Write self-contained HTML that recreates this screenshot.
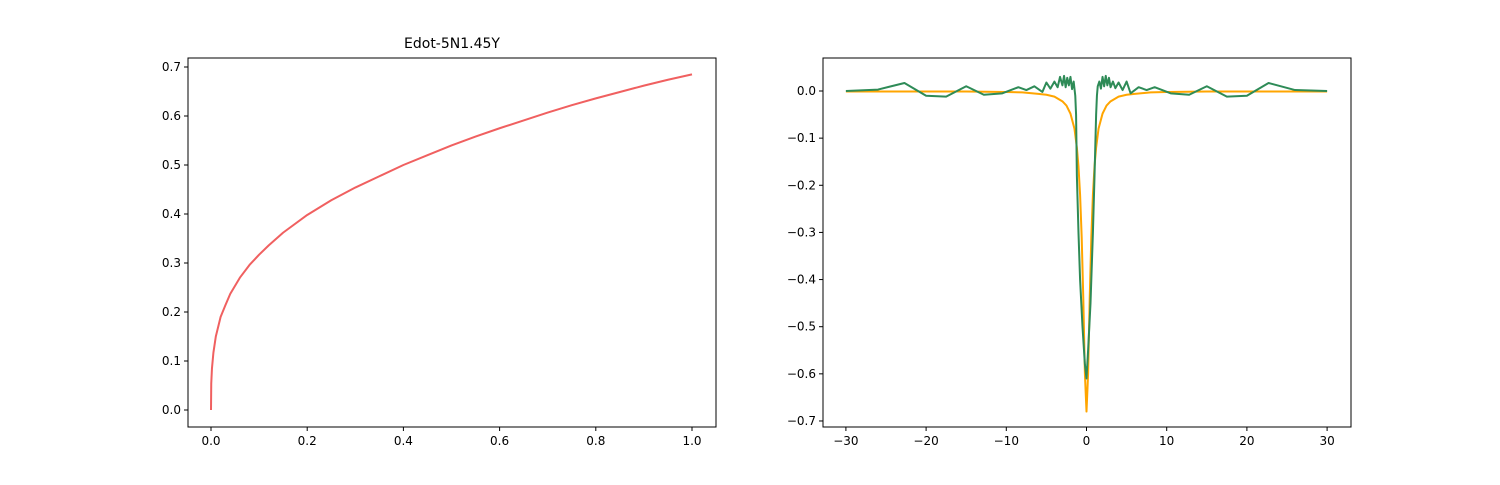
<!DOCTYPE html>
<html><head><meta charset="utf-8"><style>
body{margin:0;background:#fff;font-family:"Liberation Sans","DejaVu Sans",sans-serif}
svg text{font-family:"DejaVu Sans","Liberation Sans",sans-serif;font-size:12px;fill:#000}
svg text.title{font-size:14px}
</style></head><body>
<svg id="c" width="1500" height="480">
<rect x="0" y="0" width="1500" height="480" fill="#fff"/>
</svg>
<script>
const leftX=[0,0.0005,0.002,0.005,0.01,0.02,0.03,0.04,0.06,0.08,0.1,0.12,0.15,0.2,0.25,0.3,0.35,0.4,0.45,0.5,0.55,0.6,0.65,0.7,0.75,0.8,0.85,0.9,0.95,1.0];
const leftY=[0,0.054,0.085,0.117,0.150,0.190,0.214,0.237,0.270,0.296,0.317,0.336,0.362,0.398,0.428,0.454,0.477,0.500,0.520,0.540,0.558,0.575,0.591,0.607,0.622,0.636,0.649,0.662,0.674,0.685];
const orangeX=[-30,-20,-15,-10,-8,-6,-5,-4,-3,-2.5,-2,-1.5,-1.2,-1,-0.8,-0.6,-0.4,-0.2,0,0.2,0.4,0.6,0.8,1,1.2,1.5,2,2.5,3,4,5,6,8,10,15,20,30];
const orangeY=[-0.001,-0.001,-0.001,-0.002,-0.003,-0.006,-0.008,-0.012,-0.022,-0.031,-0.048,-0.080,-0.120,-0.160,-0.220,-0.310,-0.440,-0.600,-0.680,-0.600,-0.440,-0.310,-0.220,-0.160,-0.120,-0.080,-0.048,-0.031,-0.022,-0.012,-0.008,-0.006,-0.003,-0.002,-0.001,-0.001,-0.001];
const greenX=[-30,-26,-22.7,-20,-17.5,-15,-12.8,-10.5,-8.5,-7.5,-6.5,-5.5,-5,-4.5,-4,-3.6,-3.3,-3,-2.8,-2.6,-2.4,-2.2,-2,-1.8,-1.6,-1.4,-1.3,-1.2,-1,-0.8,-0.5,-0.2,0,0.2,0.5,0.8,1,1.2,1.3,1.4,1.6,1.8,2,2.2,2.4,2.6,2.8,3,3.3,3.6,4,4.5,5,5.5,6.5,7.5,8.5,10.5,12.8,15,17.5,20,22.7,26,30];
const greenY=[0,0.003,0.017,-0.01,-0.012,0.01,-0.008,-0.005,0.008,0.002,0.01,-0.002,0.018,0.005,0.02,0.008,0.03,0.012,0.032,0.008,0.028,0.012,0.03,0.004,0.02,-0.01,-0.05,-0.18,-0.3,-0.4,-0.5,-0.58,-0.61,-0.55,-0.45,-0.3,-0.18,-0.05,-0.01,0.01,0.02,0.005,0.03,0.01,0.032,0.012,0.028,0.008,0.02,0.006,0.018,0.002,0.02,-0.005,0.008,0.002,0.008,-0.005,-0.008,0.01,-0.012,-0.01,0.017,0.002,0];
const leftXTicks=[0,0.2,0.4,0.6,0.8,1.0],leftYTicks=[0,0.1,0.2,0.3,0.4,0.5,0.6,0.7];
const rightXTicks=[-30,-20,-10,0,10,20,30],rightYTicks=[0,-0.1,-0.2,-0.3,-0.4,-0.5,-0.6,-0.7];
const svg=document.getElementById('c'),NS='http://www.w3.org/2000/svg';
function mk(t,a,p){const e=document.createElementNS(NS,t);for(const k in a)e.setAttribute(k,a[k]);(p||svg).appendChild(e);return e;}
function panel(name,x0,x1,y0,y1,sx,sy,xt,yt,fx,fy){
 const g=mk('g',{});
 
 
 xt.forEach(v=>{const X=sx(v);mk('line',{x1:X,x2:X,y1:y1,y2:y1+4,stroke:'#000'},g);const t=mk('text',{x:X,y:y1+18,'text-anchor':'middle'},g);t.textContent=fx(v);
  
  });
 yt.forEach(v=>{const Y=sy(v);mk('line',{x1:x0-4,x2:x0,y1:Y,y2:Y,stroke:'#000'},g);const t=mk('text',{x:x0-7,y:Y+4,'text-anchor':'end'},g);t.textContent=fy(v);
  
  });
 return g;}
function line(g,xs,ys,sx,sy,col,w,name){const p=mk('polyline',{points:xs.map((x,i)=>sx(x)+','+sy(ys[i])).join(' '),fill:'none',stroke:col,'stroke-width':w,'stroke-linejoin':'round'},g);
 
 }
// left
const lx=v=>211+v*481,ly=v=>410-v*490;
const gl=panel('left-plot',188,716,58,427,lx,ly,leftXTicks,leftYTicks,v=>v.toFixed(1),v=>v.toFixed(1));
line(gl,leftX,leftY,lx,ly,'#f06060',2,'left-curve');
mk('rect',{x:188,y:58,width:528,height:369,fill:'none',stroke:'#000','stroke-width':1},gl);
const tt=mk('text',{x:452,y:48,'text-anchor':'middle','class':'title'},gl);tt.textContent='Edot-5N1.45Y';


// right
const rx=v=>1086.5+v*8.02,ry=v=>91-v*471.4;
const gr=panel('right-plot',823,1351,58,427,rx,ry,rightXTicks,rightYTicks,v=>v<0?'\u2212'+(-v):''+v,v=>v<0?'\u2212'+(-v).toFixed(1):'0.0');
line(gr,orangeX,orangeY,rx,ry,'orange',2,'orange-series');
line(gr,greenX,greenY,rx,ry,'#2e8b57',2,'green-series');
mk('rect',{x:823,y:58,width:528,height:369,fill:'none',stroke:'#000','stroke-width':1},gr);
</script>
</body></html>
